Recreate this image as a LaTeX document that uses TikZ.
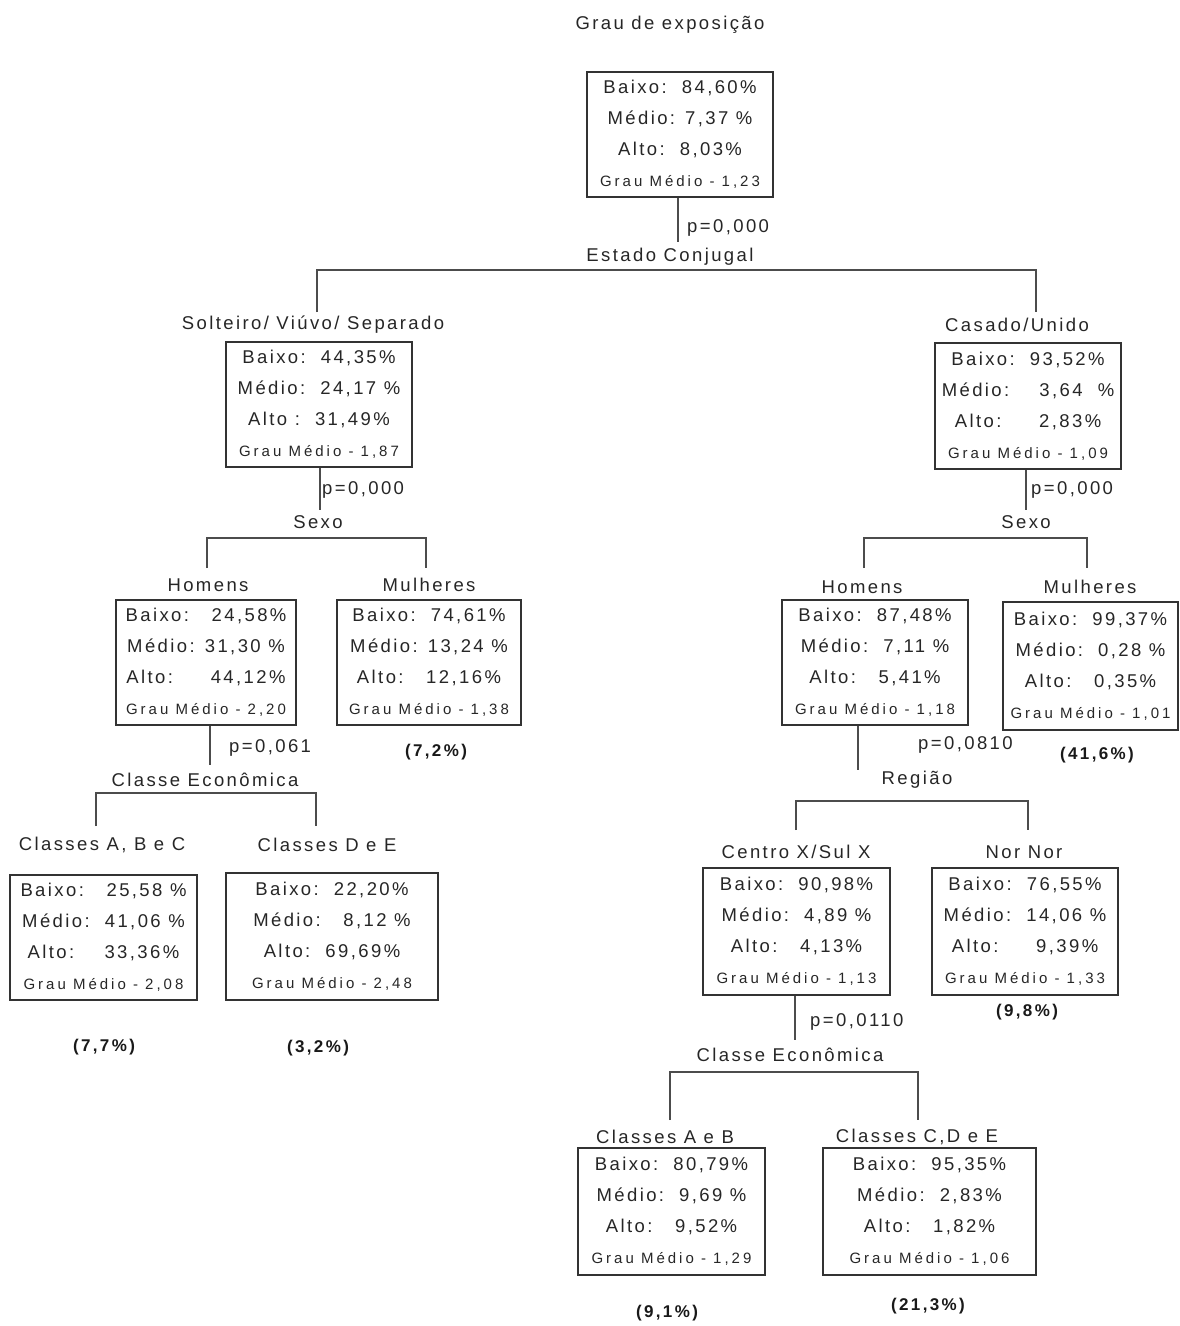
\documentclass[tikz,border=0pt]{standalone}
\usepackage{fontspec}
\setmainfont{Liberation Sans}
\newfontfamily\lsp[LetterSpace=13]{Liberation Sans}
\newfontfamily\lspg[LetterSpace=20]{Liberation Sans}
\newfontfamily\lspb[LetterSpace=14]{Liberation Sans}
\newcommand\gm[1]{{\lspg\fontsize{15}{31}\selectfont Grau Médio - #1}}
\tikzset{
  stat/.style={draw=black!80, line width=1.6pt, align=center, inner sep=0pt,
    font=\lsp\fontsize{18.5}{31}\selectfont, text=black!85},
  lbl/.style={font=\lsp\fontsize{18.5}{20}\selectfont, inner sep=1pt, text=black!85},
  pval/.style={lbl, anchor=west},
  share/.style={font=\lspb\bfseries\fontsize{17}{18}\selectfont, inner sep=1pt, text=black!90},
  link/.style={draw=black!70, line width=1.6pt},
}
\begin{document}
\begin{tikzpicture}[x=1pt,y=-1pt]
\useasboundingbox (0,0) rectangle (1180,1326);

% root
\node[lbl] (title) at (670,25) {Grau de exposição};
\node[stat, minimum width=186, minimum height=125] (r) at (680,134.5)
  {Baixo:\ \ 84,60\%\\Médio: 7,37 \%\\Alto:\ \ 8,03\%\\\gm{1,23}};
\node[pval] (p1) at (686,228) {p=0,000};
\node[lbl] (s1) at (670,257) {Estado Conjugal};
\coordinate (r-end) at (678,242);
\draw[link] (r.south -| r-end) -- (r-end);

% level 1
\node[lbl] (l1lab) at (313,325) {Solteiro/ Viúvo/ Separado};
\node[stat, minimum width=186, minimum height=125] (l1) at (319,404.5)
  {Baixo:\ \ 44,35\%\\Médio:\ \ 24,17 \%\\Alto :\ \ 31,49\%\\\gm{1,87}};
\node[lbl] (r1lab) at (1017,325) {Casado/Unido};
\node[stat, minimum width=186, minimum height=126] (r1) at (1028,406)
  {Baixo:\ \ 93,52\%\\Médio:\ \ \ \ 3,64\ \ \%\\Alto:\ \ \ \ \ 2,83\%\\\gm{1,09}};
\coordinate (b1) at (0,270);
\coordinate (l1top) at (317,312);
\coordinate (r1top) at (1036,312);
\draw[link] (l1top) -- (l1top |- b1) -- (r1top |- b1) -- (r1top);

% split of the left branch
\coordinate (l1-end) at (320,510);
\draw[link] (l1.south -| l1-end) -- (l1-end);
\node[pval] (p2) at (321,490) {p=0,000};
\node[lbl] (s2) at (318,522) {Sexo};
\coordinate (b2) at (0,538);
\coordinate (hltop) at (207,568);
\coordinate (mltop) at (426,568);
\draw[link] (hltop) -- (hltop |- b2) -- (mltop |- b2) -- (mltop);

\node[lbl] (hllab) at (208,585) {Homens};
\node[stat, minimum width=180, minimum height=125] (hl) at (206,662.5)
  {Baixo:\ \ \ 24,58\%\\Médio: 31,30 \%\\Alto:\ \ \ \ \ 44,12\%\\\gm{2,20}};
\node[lbl] (mllab) at (429,585) {Mulheres};
\node[stat, minimum width=184, minimum height=125] (ml) at (429,662.5)
  {Baixo:\ \ 74,61\%\\Médio: 13,24 \%\\Alto:\ \ \ 12,16\%\\\gm{1,38}};
\node[share] (mlshare) at (436,752) {(7,2\%)};

% split of the left men
\coordinate (hl-end) at (210,765);
\draw[link] (hl.south -| hl-end) -- (hl-end);
\node[pval] (p3) at (228,748) {p=0,061};
\node[lbl] (s3) at (205,780) {Classe Econômica};
\coordinate (b3) at (0,793);
\coordinate (abctop) at (96,826);
\coordinate (detop) at (316,826);
\draw[link] (abctop) -- (abctop |- b3) -- (detop |- b3) -- (detop);

\node[lbl] (abclab) at (102,845) {Classes A, B e C};
\node[stat, minimum width=187, minimum height=125] (abc) at (103.5,937.5)
  {Baixo:\ \ \ 25,58 \%\\Médio:\ \ 41,06 \%\\Alto:\ \ \ \ 33,36\%\\\gm{2,08}};
\node[share] (abcshare) at (104,1047) {(7,7\%)};
\node[lbl] (delab) at (327,845) {Classes D e E};
\node[stat, minimum width=212, minimum height=127] (de) at (332,936.5)
  {Baixo:\ \ 22,20\%\\Médio:\ \ \ 8,12 \%\\Alto:\ \ 69,69\%\\\gm{2,48}};
\node[share] (deshare) at (318,1048) {(3,2\%)};

% split of the right branch
\coordinate (r1-end) at (1026,510);
\draw[link] (r1.south -| r1-end) -- (r1-end);
\node[pval] (p4) at (1030,490) {p=0,000};
\node[lbl] (s4) at (1026,522) {Sexo};
\coordinate (b4) at (0,538);
\coordinate (hrtop) at (864,568);
\coordinate (mrtop) at (1087,568);
\draw[link] (hrtop) -- (hrtop |- b4) -- (mrtop |- b4) -- (mrtop);

\node[lbl] (hrlab) at (862,587) {Homens};
\node[stat, minimum width=186, minimum height=125] (hr) at (875,662.5)
  {Baixo:\ \ 87,48\%\\Médio:\ \ 7,11 \%\\Alto:\ \ \ 5,41\%\\\gm{1,18}};
\node[lbl] (mrlab) at (1090,587) {Mulheres};
\node[stat, minimum width=175, minimum height=128] (mr) at (1090.5,666)
  {Baixo:\ \ 99,37\%\\Médio:\ \ 0,28 \%\\Alto:\ \ \ 0,35\%\\\gm{1,01}};
\node[share] (mrshare) at (1097,755) {(41,6\%)};

% split of the right men
\coordinate (hr-end) at (858,770);
\draw[link] (hr.south -| hr-end) -- (hr-end);
\node[pval] (p5) at (917,745) {p=0,0810};
\node[lbl] (s5) at (917,780) {Região};
\coordinate (b5) at (0,801);
\coordinate (cstop) at (796,830);
\coordinate (nntop) at (1028,830);
\draw[link] (cstop) -- (cstop |- b5) -- (nntop |- b5) -- (nntop);

\node[lbl] (cslab) at (796,852) {Centro X/Sul X};
\node[stat, minimum width=187, minimum height=127] (cs) at (796.5,931.5)
  {Baixo:\ \ 90,98\%\\Médio:\ \ 4,89 \%\\Alto:\ \ \ 4,13\%\\\gm{1,13}};
\node[lbl] (nnlab) at (1024,852) {Nor Nor};
\node[stat, minimum width=186, minimum height=127] (nn) at (1025,931.5)
  {Baixo:\ \ 76,55\%\\Médio:\ \ 14,06 \%\\Alto:\ \ \ \ \ 9,39\%\\\gm{1,33}};
\node[share] (nnshare) at (1027,1012) {(9,8\%)};

% split of the centre/south
\coordinate (cs-end) at (795,1040);
\draw[link] (cs.south -| cs-end) -- (cs-end);
\node[pval] (p6) at (809,1022) {p=0,0110};
\node[lbl] (s6) at (790,1055) {Classe Econômica};
\coordinate (b6) at (0,1072);
\coordinate (abtop) at (670,1120);
\coordinate (cdetop) at (918,1120);
\draw[link] (abtop) -- (abtop |- b6) -- (cdetop |- b6) -- (cdetop);

\node[lbl] (ablab) at (665,1137) {Classes A e B};
\node[stat, minimum width=187, minimum height=127] (ab) at (671.5,1211.5)
  {Baixo:\ \ 80,79\%\\Médio:\ \ 9,69 \%\\Alto:\ \ \ 9,52\%\\\gm{1,29}};
\node[share] (abshare) at (667,1313) {(9,1\%)};
\node[lbl] (cdelab) at (917,1137) {Classes C,D e E};
\node[stat, minimum width=213, minimum height=127] (cde) at (929.5,1211.5)
  {Baixo:\ \ 95,35\%\\Médio:\ \ 2,83\%\\Alto:\ \ \ 1,82\%\\\gm{1,06}};
\node[share] (cdeshare) at (928,1306) {(21,3\%)};
\end{tikzpicture}
\end{document}
